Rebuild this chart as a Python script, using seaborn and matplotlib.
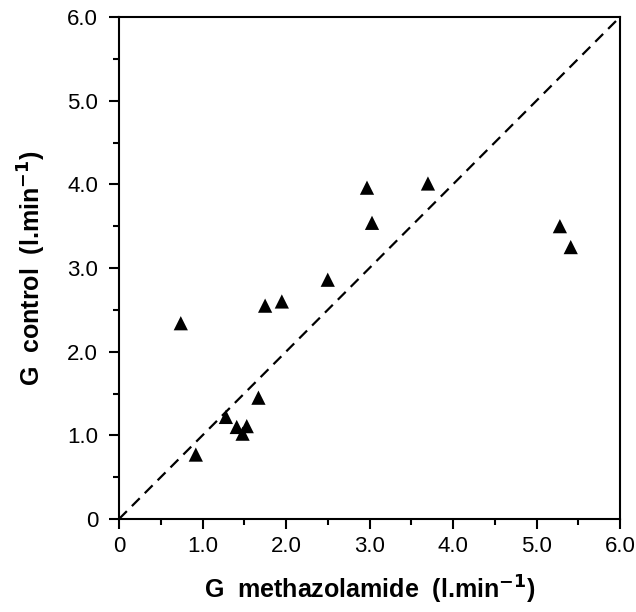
import matplotlib
matplotlib.use("Agg")
import matplotlib.pyplot as plt
from matplotlib.ticker import MultipleLocator, FuncFormatter
import seaborn as sns
import pandas as pd

g_methazolamide = [0.74, 0.92, 1.28, 1.41, 1.48, 1.53, 1.67, 1.75, 1.95, 2.50, 2.97, 3.03, 3.70, 5.28, 5.41]
g_control = [2.34, 0.77, 1.22, 1.10, 1.02, 1.11, 1.45, 2.55, 2.60, 2.86, 3.96, 3.54, 4.01, 3.50, 3.25]
identity = [0.0, 6.0]

sns.set_theme(style="ticks")
plt.rcParams['font.family'] = ['Liberation Sans', 'DejaVu Sans']

df = pd.DataFrame({"x": g_methazolamide, "y": g_control})

fig = plt.figure(figsize=(6.36, 6.12), dpi=100)
ax = fig.add_axes([119/636, 1 - 519/612, 501/636, 502/612])

ax.plot(identity, identity, color="black", linestyle=(0, (5, 3.2)), linewidth=1.6, zorder=1)
sns.scatterplot(data=df, x="x", y="y", marker="^", color="black", s=105,
                edgecolor="none", ax=ax, zorder=3)

ax.set_xlim(0, 6)
ax.set_ylim(0, 6)
ax.xaxis.set_major_locator(MultipleLocator(1.0))
ax.yaxis.set_major_locator(MultipleLocator(1.0))
ax.xaxis.set_minor_locator(MultipleLocator(0.5))
ax.yaxis.set_minor_locator(MultipleLocator(0.5))
fmt = FuncFormatter(lambda v, p: "0" if abs(v) < 1e-9 else f"{v:.1f}")
ax.xaxis.set_major_formatter(fmt)
ax.yaxis.set_major_formatter(fmt)

for s in ax.spines.values():
    s.set_visible(True)
    s.set_linewidth(1.5)
    s.set_color("black")

ax.tick_params(axis="both", which="major", direction="out", length=7, width=1.5,
               colors="black", labelsize=16)
ax.tick_params(axis="x", which="major", pad=5)
ax.tick_params(axis="y", which="major", pad=8)
ax.tick_params(axis="both", which="minor", direction="out", length=4, width=1.5, colors="black")

ax.set_xlabel("G  methazolamide  (l.min$^{\\mathbf{-1}}$)", fontsize=18, fontweight="bold",
              labelpad=12, color="black")
ax.set_ylabel("G  control  (l.min$^{\\mathbf{-1}}$)", fontsize=18, fontweight="bold",
              labelpad=14, color="black")

fig.savefig("out.png", dpi=100, facecolor="white")
